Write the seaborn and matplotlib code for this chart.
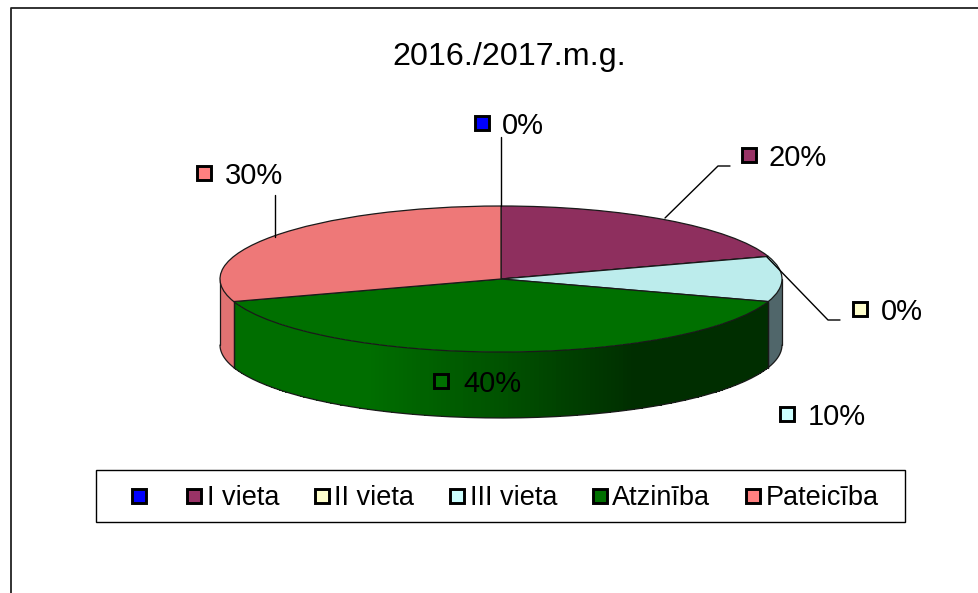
import numpy as np
import seaborn as sns
import matplotlib
matplotlib.use('Agg')
import matplotlib.pyplot as plt
from matplotlib.lines import Line2D
from matplotlib.patches import Rectangle
from matplotlib.colors import LinearSegmentedColormap

categories = ['', 'I vieta', 'II vieta', 'III vieta', 'Atzinība', 'Pateicība']
values = [0, 20, 0, 10, 40, 30]
title = '2016./2017.m.g.'

top_colors = ['#0000FF', '#8E2F5E', '#F4F4C0', '#BCECEC', '#007000', '#EE7878']
key_colors = ['#0000FF', '#993366', '#FFFFCC', '#CCFFFF', '#007000', '#FF8080']
# wall colours, left to right across the pie
wall_colors = {
    3: ['#50666A', '#50666A'],
    4: ['#006E00', '#006E00', '#005200', '#002E00', '#002E00'],
    5: ['#E07272', '#E07272'],
}

# pie geometry in pixels of the 979x593 picture
cx, cy, rx, ry, depth = 501, 279, 281, 73, 66

sns.set_theme(style='white')
plt.rcParams['font.family'] = ['Liberation Sans', 'DejaVu Sans']

fig = plt.figure(figsize=(9.79, 5.93), dpi=100)

# pie axes: unit circle squashed to an ellipse
ax = fig.add_axes([0, 0, 1, 1])
wedges, _ = ax.pie(values, colors=sns.color_palette(top_colors), startangle=90, counterclock=False, radius=1,
                   wedgeprops={'edgecolor': '#1a1a1a', 'linewidth': 0.9})
for w in wedges:
    w.set_zorder(5)
ax.set_aspect('auto')
ax.set_xlim((0 - cx) / rx, (979 - cx) / rx)
ax.set_ylim((cy - 593) / ry, cy / ry)
drop = depth / ry

# front wall, only the part of each slice facing the viewer
edges = np.cumsum([0] + values) / sum(values) * 360
for i in wall_colors:
    a0, a1 = max(edges[i], 90), min(edges[i + 1], 270)
    if a1 <= a0:
        continue
    ang = np.linspace(a0, a1, 160)
    x = np.sin(np.radians(ang))
    y = np.cos(np.radians(ang))
    order = np.argsort(x)
    x, y = x[order], y[order]
    X = np.vstack([x, x])
    Y = np.vstack([y, y - drop])
    cmap = LinearSegmentedColormap.from_list('wall', wall_colors[i])
    C = (x[:-1] + x[1:]) / 2
    C = np.array([[(c - x[0]) / (x[-1] - x[0]) for c in C]])
    ax.pcolormesh(X, Y, C, cmap=cmap, vmin=0, vmax=1, shading='flat', zorder=2, rasterized=True)
    ax.plot(x, y - drop, color='#1a1a1a', lw=0.9, zorder=3)
    ax.plot([x[0], x[0]], [y[0], y[0] - drop], color='#1a1a1a', lw=0.9, zorder=3)
    ax.plot([x[-1], x[-1]], [y[-1], y[-1] - drop], color='#1a1a1a', lw=0.9, zorder=3)

# overlay in pixel coordinates for frame, labels and legend
ov = fig.add_axes([0, 0, 1, 1], facecolor='none')
ov.set_xlim(0, 979)
ov.set_ylim(593, 0)
ov.axis('off')

ov.plot([11, 11, 979], [593, 7.5, 7.5], color='#222222', lw=1.3, clip_on=False)
ov.text(509, 57, title, fontsize=23.2, ha='center', va='center', color='black')

# leader lines
ov.plot([501, 501], [137, 206], color='black', lw=1.0)
ov.plot([275, 275], [195, 237], color='black', lw=1.0)
ov.plot([665, 718, 730], [218, 166, 166], color='black', lw=1.0)
ov.plot([767, 828, 840], [257, 320, 320], color='black', lw=1.0)

# data labels: swatch centre x, text start x, y
label_pos = [(482, 502, 126), (749, 769, 158), (860, 881, 312), (787, 808, 417), (441, 463, 384), (204, 225, 176)]
for val, col, (sx, tx, ly) in zip(values, key_colors, label_pos):
    ov.plot(sx, ly - 3, marker='s', ms=10.5, mfc=col, mec='black', mew=2.1, zorder=8)
    ov.text(tx, ly, f'{val}%', fontsize=21, ha='left', va='center', color='black', zorder=8)

# legend
ov.add_patch(Rectangle((96, 470), 809, 52, fc='white', ec='black', lw=1.0, zorder=6))
handles = [Line2D([], [], ls='none', marker='s', ms=10.5, mfc=c, mec='black', mew=2.1) for c in key_colors]
leg = ov.legend(handles, categories, ncol=6, frameon=False, fontsize=19.5, loc='center', labelcolor='black',
                bbox_to_anchor=(505 / 979, 1 - 498 / 593), bbox_transform=fig.transFigure,
                handlelength=0.55, handletextpad=0.19, columnspacing=1.30, borderpad=0, borderaxespad=0)
leg.set_zorder(9)

fig.savefig('out.png', dpi=100, facecolor='white')
